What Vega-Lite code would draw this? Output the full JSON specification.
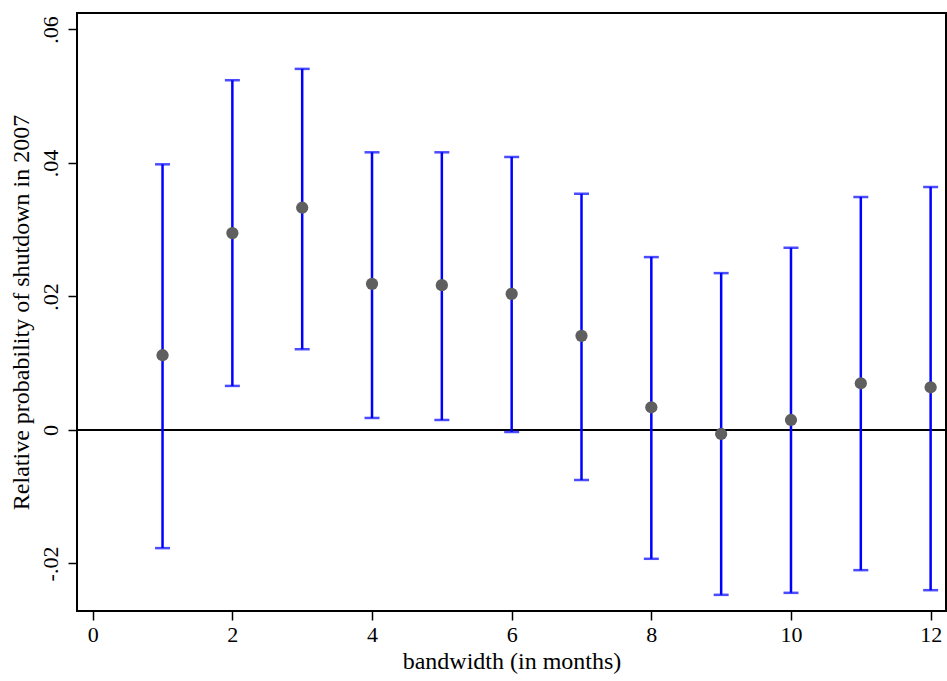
{
  "$schema": "https://vega.github.io/schema/vega-lite/v6.json",
  "width": 869,
  "height": 598,
  "autosize": {"type": "none"},
  "padding": {"left": 77, "top": 13, "right": 1, "bottom": 70},
  "background": "white",
  "config": {
    "view": {"stroke": "black", "strokeWidth": 2},
    "font": "Liberation Serif",
    "axis": {
      "grid": false,
      "domain": false,
      "tickColor": "black",
      "tickWidth": 1.5,
      "tickSize": 9,
      "labelFont": "Liberation Serif",
      "titleFont": "Liberation Serif",
      "labelFontSize": 22,
      "titleFontSize": 24,
      "labelColor": "black",
      "titleColor": "black",
      "titleFontWeight": "normal"
    }
  },
  "data": {
    "values": [
      {"bw": 1, "est": 0.0112, "lo": -0.0177, "hi": 0.0398},
      {"bw": 2, "est": 0.0295, "lo": 0.0066, "hi": 0.0524},
      {"bw": 3, "est": 0.0333, "lo": 0.0121, "hi": 0.0541},
      {"bw": 4, "est": 0.0219, "lo": 0.0018, "hi": 0.0416},
      {"bw": 5, "est": 0.0217, "lo": 0.0015, "hi": 0.0416},
      {"bw": 6, "est": 0.0204, "lo": -0.0003, "hi": 0.0409},
      {"bw": 7, "est": 0.0141, "lo": -0.0075, "hi": 0.0354},
      {"bw": 8, "est": 0.0034, "lo": -0.0193, "hi": 0.0259},
      {"bw": 9, "est": -0.0006, "lo": -0.0247, "hi": 0.0235},
      {"bw": 10, "est": 0.0015, "lo": -0.0244, "hi": 0.0273},
      {"bw": 11, "est": 0.0070, "lo": -0.0210, "hi": 0.0349},
      {"bw": 12, "est": 0.0064, "lo": -0.0240, "hi": 0.0364}
    ]
  },
  "encoding": {
    "x": {
      "field": "bw",
      "type": "quantitative",
      "scale": {"domain": [-0.225, 12.22], "nice": false, "zero": false},
      "axis": {"values": [0, 2, 4, 6, 8, 10, 12], "title": "bandwidth (in months)", "labelPadding": 4, "titlePadding": 4}
    }
  },
  "layer": [
    {
      "data": {"values": [{"z": 0}]},
      "mark": {"type": "rule", "color": "black", "strokeWidth": 2},
      "encoding": {"y": {"field": "z", "type": "quantitative"}, "x": null}
    },
    {
      "mark": {"type": "rule", "color": "#0000ff", "strokeWidth": 2.5},
      "encoding": {
        "y": {
          "field": "lo",
          "type": "quantitative",
          "scale": {"domain": [-0.02712, 0.06247], "nice": false, "zero": false},
          "axis": {
            "values": [-0.02, 0, 0.02, 0.04, 0.06],
            "labelExpr": "replace(replace(format(datum.value, '.2~f'), '0.', '.'), '\u2212', '-')",
            "labelAngle": -90,
            "labelAlign": "center",
            "labelBaseline": "bottom",
            "labelPadding": 6,
            "title": "Relative probability of shutdown in 2007",
            "titlePadding": 6
          }
        },
        "y2": {"field": "hi"}
      }
    },
    {
      "mark": {"type": "tick", "orient": "horizontal", "color": "#0000ff", "size": 15, "thickness": 2.5},
      "encoding": {"y": {"field": "lo", "type": "quantitative"}}
    },
    {
      "mark": {"type": "tick", "orient": "horizontal", "color": "#0000ff", "size": 15, "thickness": 2.5},
      "encoding": {"y": {"field": "hi", "type": "quantitative"}}
    },
    {
      "mark": {"type": "point", "filled": true, "color": "#5f5f5f", "opacity": 1, "size": 150},
      "encoding": {"y": {"field": "est", "type": "quantitative"}}
    }
  ]
}
